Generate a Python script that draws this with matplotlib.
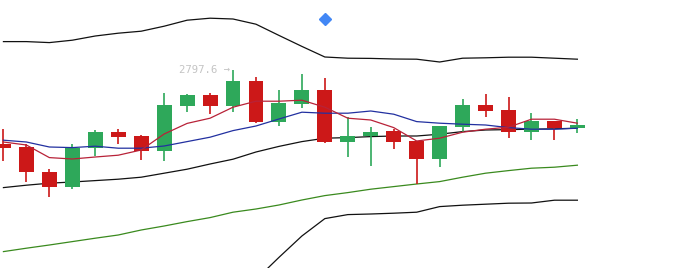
import matplotlib
matplotlib.use("Agg")
import matplotlib.pyplot as plt

# candle data
opens = [2760.6, 2759.1, 2746.6, 2739.1, 2758.6, 2766.6, 2764.6, 2757.1, 2779.6, 2785.1, 2779.6, 2792.1, 2771.6,
         2780.6, 2787.6, 2761.6, 2764.6, 2767.1, 2762.1, 2753.1, 2769.1, 2780.1, 2777.6, 2766.6, 2772.1, 2768.6]
highs = [2768.1, 2760.6, 2748.1, 2760.6, 2767.6, 2768.1, 2765.1, 2786.1, 2785.6, 2786.1, 2797.6, 2794.1, 2787.6,
         2795.6, 2793.6, 2774.1, 2769.1, 2768.1, 2762.1, 2769.6, 2783.1, 2785.6, 2784.1, 2776.1, 2772.1, 2773.1]
lows = [2752.1, 2741.6, 2734.1, 2738.1, 2754.6, 2760.6, 2752.6, 2752.1, 2776.6, 2775.6, 2776.6, 2771.1, 2769.6,
        2778.6, 2761.1, 2754.1, 2749.6, 2758.1, 2740.6, 2749.1, 2766.6, 2774.1, 2763.6, 2762.6, 2762.6, 2766.1]
closes = [2758.6, 2746.6, 2739.1, 2758.6, 2766.6, 2764.1, 2757.1, 2780.1, 2785.1, 2779.6, 2792.1, 2771.6, 2781.1,
          2787.6, 2761.6, 2764.6, 2766.6, 2761.6, 2753.1, 2769.6, 2780.1, 2777.1, 2766.6, 2772.1, 2768.6, 2770.1]

# indicator lines
upper_band = [2811.8, 2811.8, 2811.3, 2812.5, 2814.6, 2816.0, 2817.0, 2819.5, 2822.5, 2823.5, 2823.1, 2820.5, 2814.9,
              2809.4, 2804.1, 2803.5, 2803.4, 2803.1, 2803.0, 2801.6, 2803.5, 2803.7, 2804.0, 2804.0, 2803.5, 2803.0]
mid_band = [2738.8, 2740.0, 2741.0, 2741.6, 2742.3, 2743.0, 2744.0, 2746.0, 2748.0, 2750.6, 2753.0, 2756.6, 2759.4,
            2761.8, 2763.5, 2763.8, 2764.3, 2764.6, 2764.6, 2765.5, 2766.8, 2767.6, 2767.8, 2768.0, 2768.2, 2768.5]
lower_band = [2665.8, 2668.2, 2670.7, 2670.8, 2669.9, 2670.0, 2671.0, 2672.5, 2673.5, 2677.8, 2682.8, 2692.8, 2703.9,
              2714.6, 2723.3, 2725.3, 2725.6, 2726.0, 2726.5, 2729.3, 2730.0, 2730.5, 2731.0, 2731.1, 2732.5, 2732.5]
ma_short = [2761.6, 2760.1, 2753.8, 2753.1, 2754.1, 2755.0, 2757.6, 2765.6, 2770.9, 2773.5, 2779.0, 2782.0, 2782.0,
            2782.5, 2779.0, 2773.5, 2772.6, 2768.8, 2762.1, 2763.5, 2766.5, 2768.0, 2769.0, 2773.0, 2773.0, 2771.0]
ma_mid = [2762.5, 2761.6, 2759.1, 2758.8, 2759.5, 2758.5, 2758.5, 2759.6, 2761.8, 2764.0, 2767.3, 2769.6, 2773.1,
          2776.5, 2776.0, 2776.0, 2777.1, 2775.5, 2771.8, 2771.0, 2770.5, 2770.1, 2768.8, 2768.0, 2768.0, 2768.5]
ma_long = [2706.8, 2708.5, 2710.1, 2711.8, 2713.5, 2715.1, 2717.6, 2719.6, 2721.8, 2723.8, 2726.5, 2728.1, 2730.1,
           2732.6, 2734.8, 2736.3, 2738.0, 2739.3, 2740.6, 2741.8, 2744.0, 2746.0, 2747.3, 2748.5, 2749.0, 2750.0]

signal_idx = 14
signal_price = 2823.1
peak_label = "2797.6 →"

UP = "#2ea85a"
DOWN = "#cc1818"

fig = plt.figure(figsize=(6.8, 2.68), dpi=100)
ax = fig.add_axes([0, 0, 1, 1])
ax.set_axis_off()

x = list(range(len(opens)))

ax.plot(x, upper_band, color="#111111", lw=0.9, zorder=2)
ax.plot(x, mid_band, color="#111111", lw=0.9, zorder=2)
ax.plot(x, lower_band, color="#111111", lw=0.9, zorder=2)
ax.plot(x, ma_long, color="#3a8a1e", lw=0.9, zorder=2)

for i in x:
    up = closes[i] >= opens[i]
    c = UP if up else DOWN
    ax.vlines(i, lows[i], highs[i], color=c, lw=1.2, zorder=3)
    lo = min(opens[i], closes[i])
    h = max(abs(closes[i] - opens[i]), 0.8)
    ax.bar(i, h, bottom=lo, width=0.65, color=c, zorder=3)

ax.plot(x, ma_mid, color="#2230a0", lw=0.9, zorder=4)
ax.plot(x, ma_short, color="#b82238", lw=0.9, zorder=4)

ax.plot(signal_idx, signal_price, marker="D", color="#4287f5", markersize=6.5, zorder=5)

peak_i = highs.index(max(highs))
ax.annotate(peak_label, xy=(peak_i, highs[peak_i]), xytext=(-2, 0), textcoords="offset points",
            ha="right", va="center", fontsize=7.7, family="DejaVu Sans Mono", color="#c4c4c4")

ax.set_xlim(-0.15, 29.47)
ax.set_ylim(2698.6, 2832.6)

fig.savefig("out.png", dpi=100)
